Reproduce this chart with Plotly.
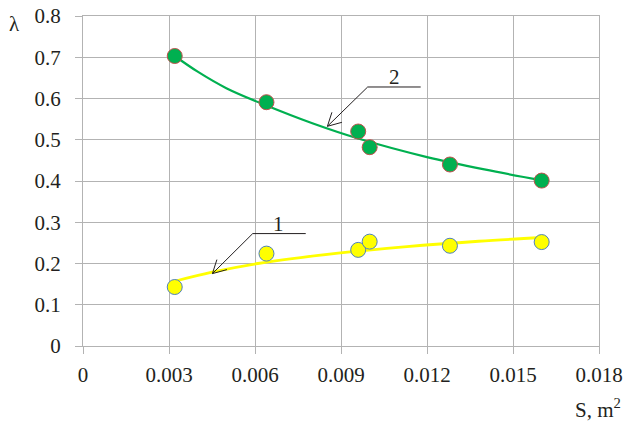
import plotly.graph_objects as go

# measured points
s_points = [0.0032, 0.0064, 0.0096, 0.0100, 0.0128, 0.0160]
lam2_points = [0.703, 0.591, 0.520, 0.482, 0.440, 0.401]
lam1_points = [0.143, 0.224, 0.233, 0.253, 0.243, 0.252]

# trend curves
s_curve2 = [0.0032, 0.0040, 0.0050, 0.0064, 0.0080, 0.0096, 0.0120, 0.0140, 0.0160]
lam_curve2 = [0.703, 0.665, 0.625, 0.583, 0.540, 0.503, 0.458, 0.428, 0.402]
s_curve1 = [0.0032, 0.0045, 0.0061, 0.0089, 0.0113, 0.0138, 0.0160]
lam_curve1 = [0.157, 0.179, 0.200, 0.225, 0.241, 0.254, 0.263]

x_ticks = [0, 0.003, 0.006, 0.009, 0.012, 0.015, 0.018]
x_tick_text = ["0", "0.003", "0.006", "0.009", "0.012", "0.015", "0.018"]
y_ticks = [0, 0.1, 0.2, 0.3, 0.4, 0.5, 0.6, 0.7, 0.8]
y_tick_text = ["0", "0.1", "0.2", "0.3", "0.4", "0.5", "0.6", "0.7", "0.8"]

FONT = "Liberation Serif"
FS = 21
TXT = "#231f20"
GRID = "#b3b3b3"

fig = go.Figure()
fig.add_trace(go.Scatter(x=s_curve2, y=lam_curve2, mode="lines", line=dict(color="#00b050", width=2.2, shape="spline"), hoverinfo="skip"))
fig.add_trace(go.Scatter(x=s_curve1, y=lam_curve1, mode="lines", line=dict(color="#ffff00", width=2.8, shape="spline"), hoverinfo="skip"))
fig.add_trace(go.Scatter(x=s_points, y=lam2_points, mode="markers",
                         marker=dict(size=15, color="#00b050", line=dict(color="#c0504d", width=1))))
fig.add_trace(go.Scatter(x=s_points, y=lam1_points, mode="markers",
                         marker=dict(size=15, color="#ffff00", line=dict(color="#4f81bd", width=1))))

# callout lines (label 2 and label 1)
callouts = [
    dict(tip=(0.008526, 0.5326), tail=(0.00993, 0.6279), end=(0.01178, 0.6279), label="2", lab=(0.01087, 0.6514)),
    dict(tip=(0.004514, 0.1755), tail=(0.00592, 0.2725), end=(0.00777, 0.2725), label="1", lab=(0.006827, 0.295)),
]
shapes = []
annotations = []
for c in callouts:
    shapes.append(dict(type="line", xref="x", yref="y", x0=c["tip"][0], y0=c["tip"][1], x1=c["tail"][0], y1=c["tail"][1],
                       line=dict(color=TXT, width=1)))
    shapes.append(dict(type="line", xref="x", yref="y", x0=c["tail"][0], y0=c["tail"][1], x1=c["end"][0], y1=c["end"][1],
                       line=dict(color=TXT, width=1)))
    shapes.append(dict(type="path", xref="x", yref="y", xsizemode="pixel", ysizemode="pixel",
                       xanchor=c["tip"][0], yanchor=c["tip"][1],
                       path="M 14.5,4 L 0,0 L 4.5,14", line=dict(color=TXT, width=1)))
    annotations.append(dict(x=c["lab"][0], y=c["lab"][1], xref="x", yref="y", text=c["label"], showarrow=False,
                            xanchor="center", yanchor="middle",
                            font=dict(family=FONT, size=FS, color=TXT)))

W, H = 627, 422
L, R, T, B = 83, 28, 16, 76
pw, ph = W - L - R, H - T - B

def to_paper(px, py):
    return (px - L) / pw, (H - B - py) / ph

lx, ly = to_paper(14, 24)
annotations.append(dict(x=lx, y=ly, xref="paper", yref="paper", text="λ", showarrow=False,
                        xanchor="center", yanchor="middle",
                        font=dict(family=FONT, size=FS, color=TXT)))
sx, sy = to_paper(623, 408)
annotations.append(dict(x=sx, y=sy, xref="paper", yref="paper", text="S, m<sup>2</sup>", showarrow=False,
                        xanchor="right", yanchor="middle", font=dict(family=FONT, size=FS, color=TXT)))

fig.update_layout(
    template="none",
    width=W, height=H,
    margin=dict(l=L, r=R, t=T, b=B, autoexpand=False),
    paper_bgcolor="white", plot_bgcolor="white",
    showlegend=False,
    font=dict(family=FONT, size=FS, color=TXT),
    shapes=shapes, annotations=annotations,
)
fig.update_xaxes(range=[0, 0.018], tickvals=x_ticks, ticktext=x_tick_text, showgrid=True, gridcolor=GRID, gridwidth=1,
                 zeroline=False, showline=True, linecolor=GRID, linewidth=1, mirror=True, automargin=False,
                 ticks="outside", ticklen=7, tickcolor=GRID, tickwidth=1, ticklabelstandoff=3,
                 ticklabeloverflow="allow", tickfont=dict(family=FONT, size=FS, color=TXT))
fig.update_yaxes(range=[0, 0.8], tickvals=y_ticks, ticktext=y_tick_text, showgrid=True, gridcolor=GRID, gridwidth=1,
                 zeroline=False, showline=True, linecolor=GRID, linewidth=1, mirror=True, automargin=False,
                 ticks="outside", ticklen=7, tickcolor=GRID, tickwidth=1, ticklabelstandoff=10,
                 ticklabeloverflow="allow", tickfont=dict(family=FONT, size=FS, color=TXT))

fig.write_html("out.html", config={"displayModeBar": False},
               post_script="document.body.style.margin='0';document.documentElement.style.overflow='hidden';")
